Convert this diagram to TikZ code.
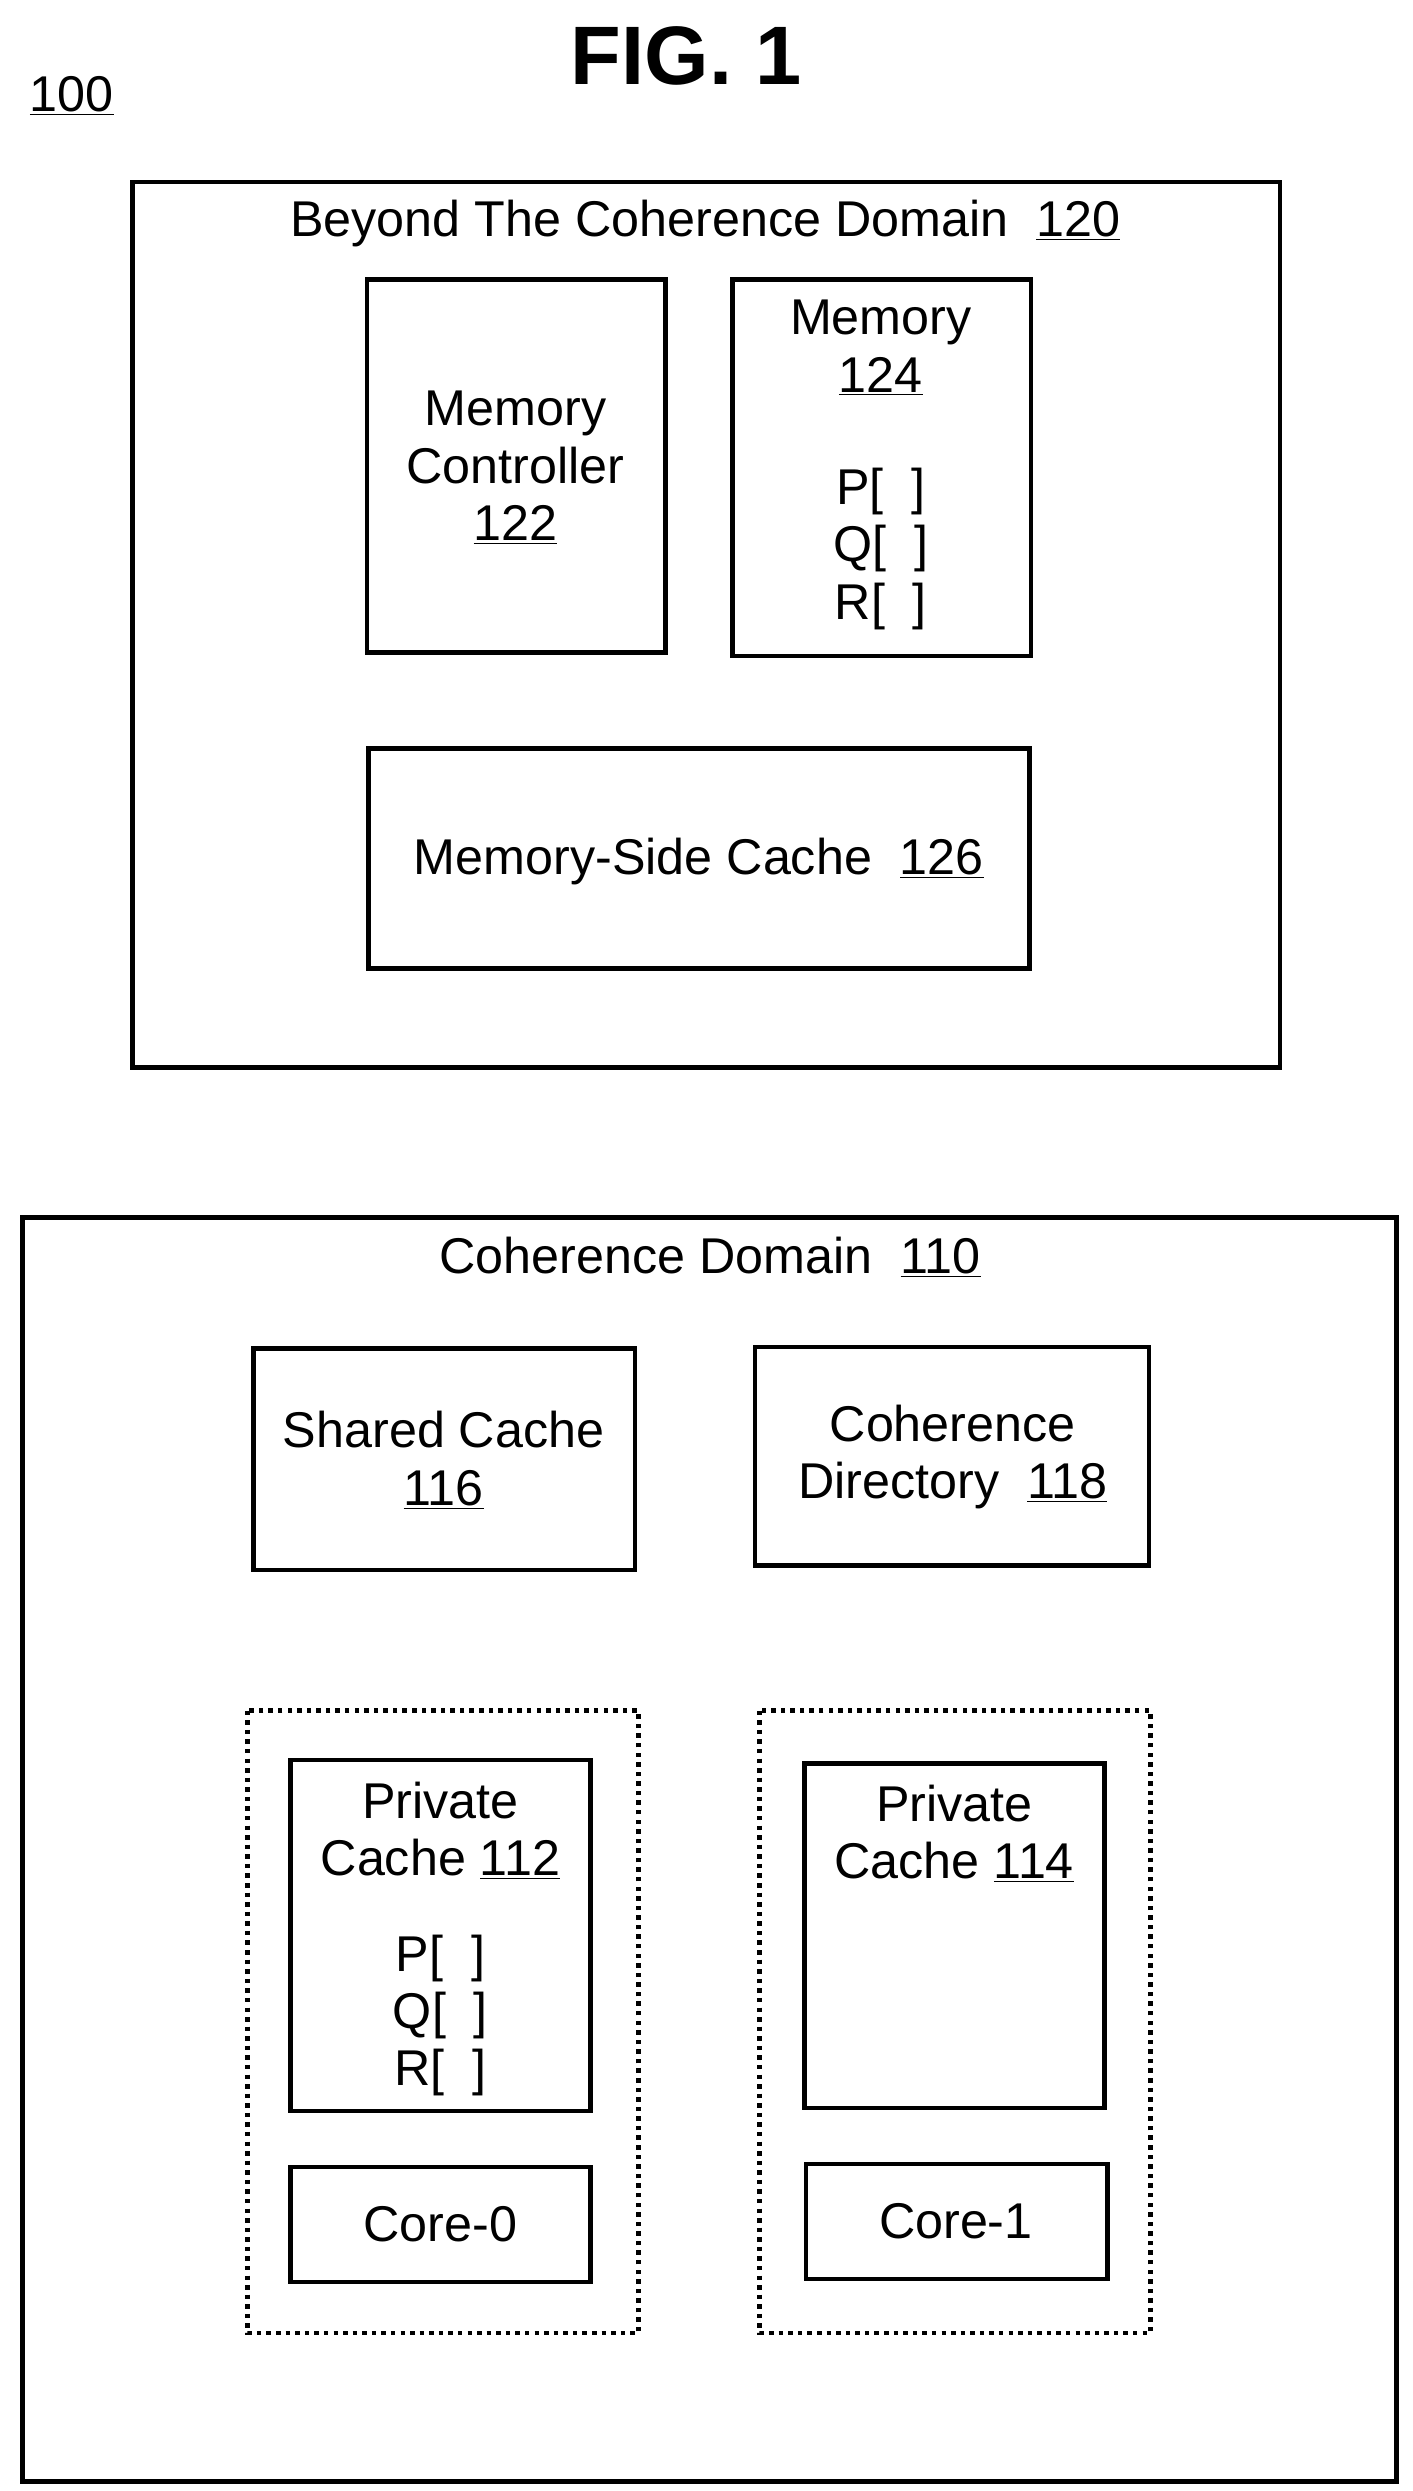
\documentclass[tikz,border=0pt]{standalone}
\usepackage{fontspec}
\setmainfont{Liberation Sans}
\begin{document}
\begin{tikzpicture}[x=1pt,y=-1pt,
 box/.style={draw,line width=2.8pt},
 grp/.style={draw,line width=2.8pt,dash pattern=on 2.8pt off 3.2pt},
 t/.style={font=\fontsize{31.5}{36}\selectfont,inner sep=0pt,anchor=center,align=center}]
\useasboundingbox (0,0) rectangle (885,1561);
\node[t,font=\fontsize{52}{56}\selectfont\bfseries] (fig) at (430,35) {FIG. 1};
\node[t] (n100) at (45,60) {\underline{100}};
\draw[box] (83,114) rectangle (802,669);
\node[t] (b120) at (442,140) {Beyond The Coherence Domain\ \ \underline{120}};
\draw[box] (230,175) rectangle (417,409);
\node[t] (mc) at (323,293) {Memory\\Controller\\\underline{122}};
\draw[box] (459,175) rectangle (646,411);
\node[t] (mem) at (552,218) {Memory\\\underline{124}};
\node[t] (mempqr) at (552,344) {P[\ \ ]\\Q[\ \ ]\\R[\ \ ]};
\draw[box] (231,469) rectangle (645,607);
\node[t] (msc) at (438,540) {Memory-Side Cache\ \ \underline{126}};
\draw[box] (14,763) rectangle (875,1555);
\node[t] (cd) at (445,788) {Coherence Domain\ \ \underline{110}};
\draw[box] (159,845) rectangle (398,984);
\node[t] (sc) at (278,915) {Shared Cache\\\underline{116}};
\draw[box] (473,844) rectangle (720,981);
\node[t] (dir) at (597,913) {Coherence\\Directory\ \ \underline{118}};
\draw[grp] (155,1072) rectangle (400,1462);
\draw[grp] (476,1072) rectangle (721,1462);
\draw[box] (182,1103) rectangle (370,1323);
\node[t] (pc1) at (276,1147) {Private\\Cache \underline{112}};
\node[t] (pqr1) at (276,1263) {P[\ \ ]\\Q[\ \ ]\\R[\ \ ]};
\draw[box] (182,1358) rectangle (370,1430);
\node[t] (c0) at (276,1394) {Core-0};
\draw[box] (504,1105) rectangle (692,1321);
\node[t] (pc2) at (598,1149) {Private\\Cache \underline{114}};
\draw[box] (505,1356) rectangle (694,1428);
\node[t] (c1) at (599,1392) {Core-1};
\end{tikzpicture}
\end{document}
